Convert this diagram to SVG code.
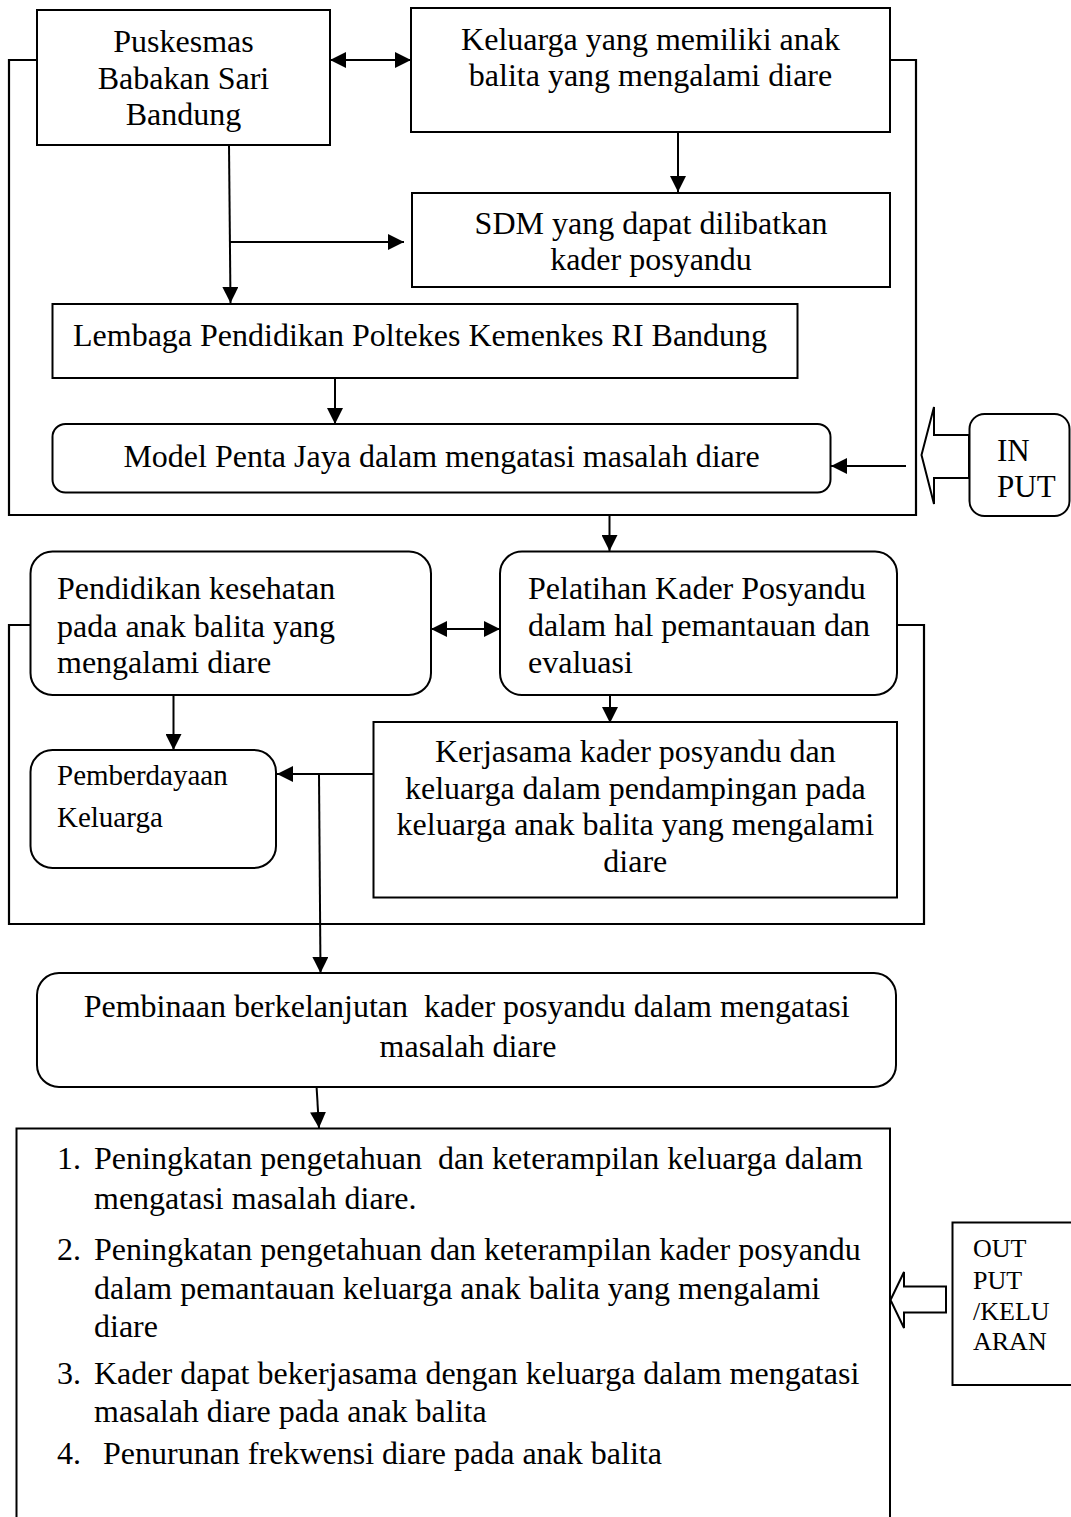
<svg xmlns="http://www.w3.org/2000/svg" width="1071" height="1517" viewBox="0 0 1071 1517">
<style>
  .box{fill:#fff;stroke:#000;stroke-width:2}
  .ln{fill:none;stroke:#000;stroke-width:2}
  .frame{fill:none;stroke:#000;stroke-width:2.2}
  .hollow{fill:#fff;stroke:#000;stroke-width:2}
  text{font-family:"Liberation Serif","Times New Roman",serif;font-size:32px;fill:#000}
  .c{text-anchor:middle}
  .s29{font-size:29px}
  .s31{font-size:31px}
  .s26{font-size:26px}
</style>
<defs>
  <marker id="ah" viewBox="0 0 16 16" refX="16" refY="8" markerWidth="16" markerHeight="16" markerUnits="userSpaceOnUse" orient="auto-start-reverse">
    <path d="M0,0 L16,8 L0,16 Z" fill="#000"/>
  </marker>
</defs>
<rect width="1071" height="1517" fill="#fff"/>

<g id="frames">
  <path class="frame" d="M37,60 H9 V515 H916 V60 H890"/>
  <path class="frame" d="M30,625 H9 V924 H924 V625 H897"/>
</g>

<g id="connectors">
  <line class="ln" x1="330" y1="60" x2="411" y2="60" marker-start="url(#ah)" marker-end="url(#ah)"/>
  <line class="ln" x1="678" y1="132" x2="678" y2="192" marker-end="url(#ah)"/>
  <line class="ln" x1="229" y1="145" x2="230.5" y2="303" marker-end="url(#ah)"/>
  <line class="ln" x1="230" y1="242" x2="404" y2="242" marker-end="url(#ah)"/>
  <line class="ln" x1="335" y1="378" x2="335" y2="424" marker-end="url(#ah)"/>
  <line class="ln" x1="906" y1="466" x2="831" y2="466" marker-end="url(#ah)"/>
  <line class="ln" x1="609.5" y1="515" x2="609.5" y2="551" marker-end="url(#ah)"/>
  <line class="ln" x1="431" y1="629" x2="500" y2="629" marker-start="url(#ah)" marker-end="url(#ah)"/>
  <line class="ln" x1="173.5" y1="695" x2="173.5" y2="750" marker-end="url(#ah)"/>
  <line class="ln" x1="610" y1="695" x2="610" y2="723" marker-end="url(#ah)"/>
  <line class="ln" x1="373" y1="774" x2="277" y2="774" marker-end="url(#ah)"/>
  <line class="ln" x1="319" y1="774" x2="320.5" y2="973" marker-end="url(#ah)"/>
  <line class="ln" x1="316.6" y1="1087" x2="319" y2="1128" marker-end="url(#ah)"/>
  <polygon class="hollow" points="921.5,455 934,407 934,435 969,435 969,478 934,478 934,504"/>
  <polygon class="hollow" points="890.5,1300 904,1272 904,1286.5 946,1286.5 946,1312.5 904,1312.5 904,1328"/>
</g>

<g id="puskesmas">
  <rect class="box" x="37" y="10" width="293" height="135"/>
  <text class="c" x="183.5" y="52">Puskesmas</text>
  <text class="c" x="183.5" y="88.5">Babakan Sari</text>
  <text class="c" x="183.5" y="124.5">Bandung</text>
</g>

<g id="keluarga">
  <rect class="box" x="411" y="8" width="479" height="124"/>
  <text class="c" x="650.5" y="50">Keluarga yang memiliki anak</text>
  <text class="c" x="650.5" y="86">balita yang mengalami diare</text>
</g>

<g id="sdm">
  <rect class="box" x="412" y="193" width="478" height="94"/>
  <text class="c" x="651" y="233.5">SDM yang dapat dilibatkan</text>
  <text class="c" x="651" y="269.5">kader posyandu</text>
</g>

<g id="lembaga">
  <rect class="box" x="52.5" y="304" width="745" height="74"/>
  <text x="73" y="345.5">Lembaga Pendidikan Poltekes Kemenkes RI Bandung</text>
</g>

<g id="model">
  <rect class="box" x="52.5" y="424" width="778" height="68.5" rx="13"/>
  <text class="c" x="441.5" y="467">Model Penta Jaya dalam mengatasi masalah diare</text>
</g>

<g id="input">
  <rect class="box" x="969.5" y="414" width="100" height="102" rx="15"/>
  <text class="s31" x="997" y="461">IN</text>
  <text class="s31" x="997" y="497">PUT</text>
</g>

<g id="pendidikan">
  <rect class="box" x="30.5" y="551.5" width="400.5" height="143.5" rx="22"/>
  <text x="57" y="599">Pendidikan kesehatan</text>
  <text x="57" y="636.5">pada anak balita yang</text>
  <text x="57" y="673">mengalami diare</text>
</g>

<g id="pelatihan">
  <rect class="box" x="500" y="551.5" width="397" height="143.5" rx="22"/>
  <text x="528" y="599">Pelatihan Kader Posyandu</text>
  <text x="528" y="636">dalam hal pemantauan dan</text>
  <text x="528" y="672.5">evaluasi</text>
</g>

<g id="pemberdayaan">
  <rect class="box" x="30.5" y="750" width="245.5" height="118" rx="22"/>
  <text class="s29" x="57" y="785">Pemberdayaan</text>
  <text class="s29" x="57" y="827">Keluarga</text>
</g>

<g id="kerjasama">
  <rect class="box" x="373.5" y="722" width="523.5" height="175.5"/>
  <text class="c" x="635.3" y="762">Kerjasama kader posyandu dan</text>
  <text class="c" x="635.3" y="798.5">keluarga dalam pendampingan pada</text>
  <text class="c" x="635.3" y="835">keluarga anak balita yang mengalami</text>
  <text class="c" x="635.3" y="871.5">diare</text>
</g>

<g id="pembinaan">
  <rect class="box" x="37" y="973" width="859" height="114" rx="22"/>
  <text class="c" x="466.7" y="1016.5" xml:space="preserve">Pembinaan berkelanjutan  kader posyandu dalam mengatasi</text>
  <text class="c" x="468" y="1056.5">masalah diare</text>
</g>

<g id="keluaran">
  <rect class="box" x="16.5" y="1128.5" width="873.5" height="420"/>
  <text x="57" y="1169">1.</text>
  <text x="94" y="1169" xml:space="preserve">Peningkatan pengetahuan  dan keterampilan keluarga dalam</text>
  <text x="94" y="1208.5">mengatasi masalah diare.</text>
  <text x="57" y="1260">2.</text>
  <text x="94" y="1260">Peningkatan pengetahuan dan keterampilan kader posyandu</text>
  <text x="94" y="1298.5">dalam pemantauan keluarga anak balita yang mengalami</text>
  <text x="94" y="1336.5">diare</text>
  <text x="57" y="1383.5">3.</text>
  <text x="94" y="1383.5">Kader dapat bekerjasama dengan keluarga dalam mengatasi</text>
  <text x="94" y="1421.5">masalah diare pada anak balita</text>
  <text x="57" y="1463.5">4.</text>
  <text x="103" y="1463.5">Penurunan frekwensi diare pada anak balita</text>
</g>

<g id="output">
  <rect class="box" x="952.5" y="1222.5" width="130" height="162.5"/>
  <text class="s26" x="973" y="1257">OUT</text>
  <text class="s26" x="973" y="1288.5">PUT</text>
  <text class="s26" x="973" y="1320">/KELU</text>
  <text class="s26" x="973" y="1350">ARAN</text>
</g>
</svg>
